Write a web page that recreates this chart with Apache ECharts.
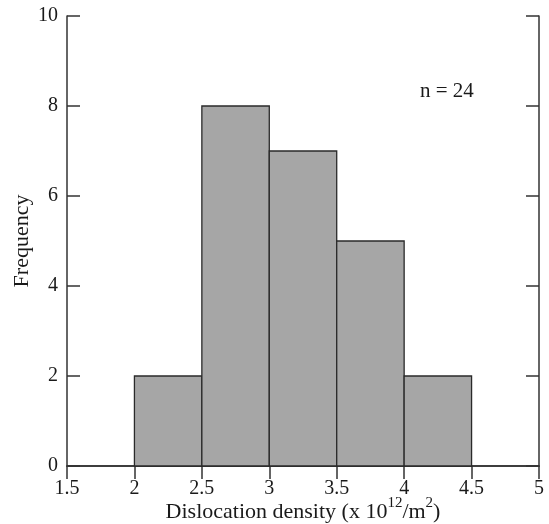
<!DOCTYPE html>
<html>
<head>
<meta charset="utf-8">
<script src="https://cdn.jsdelivr.net/npm/echarts@6/dist/echarts.min.js"></script>
<style>
  html, body { margin: 0; padding: 0; background: #fff; }
  #chart { width: 549px; height: 524px; }
</style>
</head>
<body>
<div id="chart"></div>
<script>
const binStart = [2, 2.5, 3, 3.5, 4]
const binEnd = [2.5, 3, 3.5, 4, 4.5]
const counts = [2, 8, 7, 5, 2]
const sampleLabel = 'n = 24'

const font = 'Liberation Serif'
const axisColor = '#333'
const textColor = '#1a1a1a'
const fs = 20
const nameFs = 22

const chart = echarts.init(document.getElementById('chart'))

const tickCommon = { inside: true, length: 13, lineStyle: { color: axisColor, width: 1.5 } }
const lineCommon = { show: true, lineStyle: { color: axisColor, width: 1.5 } }

const option = {
  animation: false,
  grid: { left: 67, right: 10, top: 16, bottom: 58, outerBoundsMode: 'none', containLabel: false },
  xAxis: [
    {
      type: 'value', min: 1.5, max: 5, interval: 0.5, position: 'bottom',
      axisLine: lineCommon,
      axisTick: { show: false },
      axisLabel: { color: textColor, fontFamily: font, fontSize: fs, margin: 13 },
      splitLine: { show: false },
      name: '{t|Dislocation density (x 10}{s|12}{t|/m}{s|2}{t|)}',
      nameLocation: 'middle', nameGap: 30, nameMoveOverlap: false,
      nameTextStyle: {
        rich: {
          t: { fontFamily: font, fontSize: nameFs, color: textColor, lineHeight: 27, verticalAlign: 'bottom' },
          s: { fontFamily: font, fontSize: 15, color: textColor, lineHeight: 27, verticalAlign: 'top' }
        }
      }
    },
    {
      type: 'value', min: 1.5, max: 5, interval: 0.5, position: 'top',
      axisLine: lineCommon,
      axisTick: tickCommon,
      axisLabel: { show: false },
      splitLine: { show: false }
    }
  ],
  yAxis: [
    {
      type: 'value', min: 0, max: 10, interval: 2, position: 'left',
      axisLine: lineCommon,
      axisTick: tickCommon,
      axisLabel: { color: textColor, fontFamily: font, fontSize: fs, margin: 9 },
      splitLine: { show: false },
      name: 'Frequency', nameLocation: 'middle', nameGap: 34, nameMoveOverlap: false,
      nameTextStyle: { fontFamily: font, fontSize: nameFs, color: textColor }
    },
    {
      type: 'value', min: 0, max: 10, interval: 2, position: 'right',
      axisLine: lineCommon,
      axisTick: tickCommon,
      axisLabel: { show: false },
      splitLine: { show: false }
    }
  ],
  graphic: [
    {
      type: 'text', left: 420, top: 81,
      style: { text: sampleLabel, fontFamily: font, fontSize: 21, fill: textColor }
    }
  ],
  series: [
    {
      type: 'custom',
      xAxisIndex: 0, yAxisIndex: 0,
      data: binStart.map((s, i) => [s, binEnd[i], counts[i]]),
      encode: { x: [0, 1], y: 2 },
      renderItem: (params, api) => {
        const p0 = api.coord([api.value(0), 0])
        const p1 = api.coord([api.value(1), api.value(2)])
        return {
          type: 'rect',
          shape: { x: p0[0], y: p1[1], width: p1[0] - p0[0], height: p0[1] - p1[1] },
          style: { fill: '#a6a6a6', stroke: '#2a2a2a', lineWidth: 1.3 }
        }
      }
    }
  ]
}

chart.setOption(option)
</script>
</body>
</html>
